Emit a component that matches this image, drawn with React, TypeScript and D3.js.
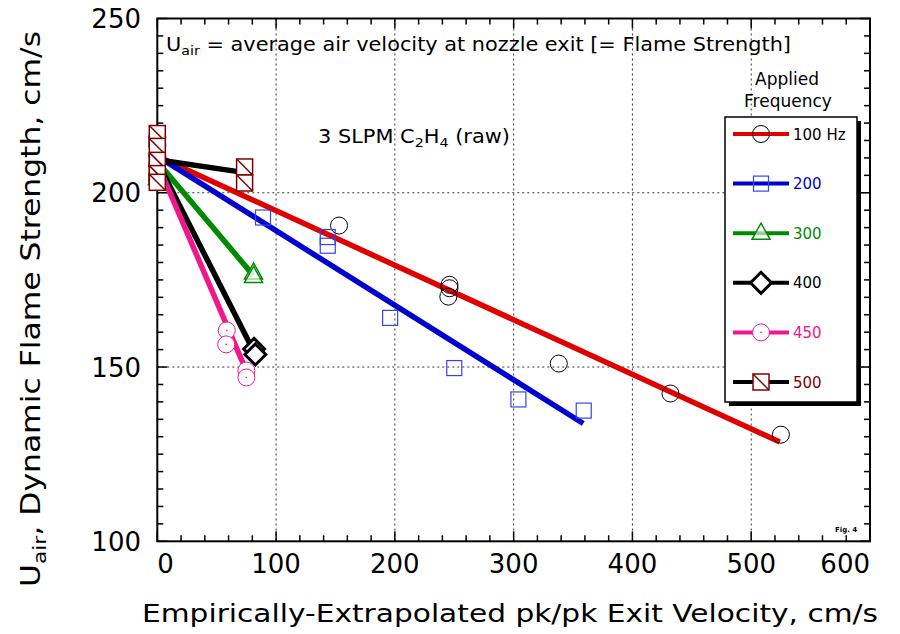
import React from "react";
import { scaleLinear, range } from "d3";

// measured points, [pk/pk exit velocity, U_air]
const hz100 = [[0, 216], [0, 213.5], [0, 210.5], [0, 208], [0, 205.5], [0, 203.5], [153, 190.6], [246, 173.6], [246, 172.6], [245, 170.2], [338, 151], [432, 142.4], [525, 130.6]];
const hz200 = [[0, 214], [0, 211], [0, 207], [0, 204], [89, 192.9], [143.5, 187.3], [143.5, 184.8], [196, 164.1], [250, 149.7], [304, 140.7], [359, 137.5]];
const hz300 = [[0, 204], [81, 177], [81, 176]];
const hz400 = [[81.5, 155.2], [82.5, 153.6]];
const hz450 = [[0, 214], [0, 209], [0, 204], [58.5, 160.5], [58, 156.5], [75, 149], [75, 147]];
const hz500 = [[0, 217], [0, 213.3], [0, 209.3], [0, 205.5], [0, 203], [73.5, 207.4], [73.5, 202.8]];

// fitted lines, [start, end]
const fit100 = [[0, 210.5], [524, 128.5]];
const fit200 = [[0, 210.5], [358.6, 133.8]];
const fit300 = [[0, 209], [80.8, 176.3]];
const fit400 = [[0, 209], [82.2, 153.8]];
const fit450 = [[0, 208.5], [75.3, 148.6]];
const fit500 = [[0, 209.5], [69.6, 206]];

const legendLabels = ["100 Hz", "200", "300", "400", "450", "500"];
const xTicks = [0, 100, 200, 300, 400, 500, 600];
const yTicks = [100, 150, 200, 250];

const FONT = "'DejaVu Sans', Verdana, sans-serif";

const kinds = ["circle", "square", "triangle", "diamond", "pcircle", "xsquare"];
const lineColors = ["#e00000", "#0000d0", "#008a00", "#000000", "#f0168c", "#000000"];
const markColors = ["#000000", "#3344ee", "#008a00", "#000000", "#f0168c", "#800000"];
const textColors = ["#000000", "#0000d0", "#008a00", "#000000", "#f0168c", "#800000"];

function Marker({ kind, x, y, color }: { kind: string; x: number; y: number; color: string }) {
  if (kind === "circle")
    return <circle cx={x} cy={y} r={8.5} fill="none" stroke={color} strokeWidth={1} />;
  if (kind === "square")
    return <rect x={x - 7.5} y={y - 7.5} width={15} height={15} fill="none" stroke={color} strokeWidth={1.2} />;
  if (kind === "triangle")
    return (
      <path d={`M${x},${y - 10}L${x + 9},${y + 6}L${x - 9},${y + 6}Z`} fill="#ffffff" fillOpacity={0.6} stroke={color} strokeWidth={1.5} />
    );
  if (kind === "diamond")
    return (
      <path d={`M${x},${y - 10.5}L${x + 10.5},${y}L${x},${y + 10.5}L${x - 10.5},${y}Z`} fill="#ffffff" stroke={color} strokeWidth={3} />
    );
  if (kind === "pcircle")
    return (
      <g>
        <circle cx={x} cy={y} r={8.5} fill="#ffffff" stroke={color} strokeWidth={1} />
        <circle cx={x} cy={y} r={0.8} fill={color} />
      </g>
    );
  return (
    <g>
      <rect x={x - 8} y={y - 8} width={16} height={16} fill="#ffffff" stroke={color} strokeWidth={1.5} />
      <line x1={x - 8} y1={y - 8} x2={x + 8} y2={y + 8} stroke={color} strokeWidth={1.5} />
    </g>
  );
}

export default function App() {
  const W = 900, H = 634;
  const x = scaleLinear().domain([0, 600]).range([157.3, 870]);
  const y = scaleLinear().domain([100, 250]).range([541.3, 18.5]);

  const points = [hz100, hz200, hz300, hz400, hz450, hz500];
  const fits = [fit100, fit200, fit300, fit400, fit450, fit500];

  const xMinor = range(0, 601, 20);
  const yMinor = range(100, 251, 5);

  const legX0 = 725, legY0 = 117, legW = 132, legH = 285;
  const legRows = range(6).map((i) => 134 + i * 49.6);

  return (
    <svg width={W} height={H} style={{ display: "block", position: "absolute", left: 0, top: 0 }} fontFamily={FONT}>
      <rect width={W} height={H} fill="#ffffff" />

      {/* grid */}
      {[100, 200, 300, 400, 500].map((t) => (
        <line key={"gx" + t} x1={x(t)} x2={x(t)} y1={y(250)} y2={y(100)} stroke="#333" strokeWidth={1} strokeDasharray="2,3" />
      ))}
      {[150, 200].map((t) => (
        <line key={"gy" + t} x1={x(0)} x2={x(600)} y1={y(t)} y2={y(t)} stroke="#333" strokeWidth={1} strokeDasharray="2,3" />
      ))}

      {/* ticks, inward on all four sides */}
      {xMinor.map((t) => {
        const len = t % 100 === 0 ? 10 : 6;
        return (
          <g key={"tx" + t}>
            <line x1={x(t)} x2={x(t)} y1={y(100)} y2={y(100) - len} stroke="#000" strokeWidth={1.5} />
            <line x1={x(t)} x2={x(t)} y1={y(250)} y2={y(250) + len} stroke="#000" strokeWidth={1.5} />
          </g>
        );
      })}
      {yMinor.map((t) => {
        const len = t % 50 === 0 ? 10 : 6;
        return (
          <g key={"ty" + t}>
            <line x1={x(0)} x2={x(0) + len} y1={y(t)} y2={y(t)} stroke="#000" strokeWidth={1.5} />
            <line x1={x(600)} x2={x(600) - len} y1={y(t)} y2={y(t)} stroke="#000" strokeWidth={1.5} />
          </g>
        );
      })}
      <rect x={x(0)} y={y(250)} width={x(600) - x(0)} height={y(100) - y(250)} fill="none" stroke="#000" strokeWidth={2} />

      {/* tick labels */}
      {xTicks.map((t, i) => (
        <text key={"lx" + t} x={x(t)} y={573} fontSize={26}
          textAnchor={i === 0 ? "start" : i === xTicks.length - 1 ? "end" : "middle"}>{t}</text>
      ))}
      {yTicks.map((t) => (
        <text key={"ly" + t} x={141} y={y(t) + 9.5} fontSize={26} textAnchor="end">{t}</text>
      ))}

      {/* axis titles */}
      <text x={510} y={622} fontSize={25} textAnchor="middle" textLength={736} lengthAdjust="spacingAndGlyphs">
        Empirically-Extrapolated pk/pk Exit Velocity, cm/s
      </text>
      <text transform="translate(40,309) rotate(-90)" fontSize={26} textAnchor="middle" textLength={556} lengthAdjust="spacingAndGlyphs">
        U<tspan fontSize={18} dy={6}>air</tspan><tspan dy={-6}>,   Dynamic Flame Strength, cm/s</tspan>
      </text>

      {/* annotations */}
      <text x={166} y={51} fontSize={19} textLength={625} lengthAdjust="spacingAndGlyphs">
        U<tspan fontSize={13} dy={4}>air</tspan><tspan dy={-4}> = average air velocity at nozzle exit [= Flame Strength]</tspan>
      </text>
      <text x={318} y={143} fontSize={19} textLength={192} lengthAdjust="spacingAndGlyphs">
        3 SLPM C<tspan fontSize={13} dy={4}>2</tspan><tspan dy={-4}>H</tspan><tspan fontSize={13} dy={4}>4</tspan><tspan dy={-4}> (raw)</tspan>
      </text>
      <text x={835} y={532} fontSize={7} fontWeight="bold">Fig. 4</text>

      {/* fitted lines */}
      {fits.map((f, i) => (
        <line key={"fit" + i} x1={x(f[0][0])} y1={y(f[0][1])} x2={x(f[1][0])} y2={y(f[1][1])}
          stroke={lineColors[i]} strokeWidth={5.5} />
      ))}

      {/* data markers */}
      {points.map((pts, i) => (
        <g key={"pts" + i}>
          {pts.map((p, j) => (
            <Marker key={j} kind={kinds[i]} x={x(p[0])} y={y(p[1])} color={markColors[i]} />
          ))}
        </g>
      ))}

      {/* legend */}
      <text x={787} y={85} fontSize={17} textAnchor="middle">Applied</text>
      <text x={788} y={107} fontSize={17} textAnchor="middle">Frequency</text>
      <rect x={legX0 + 4} y={legY0 + 4} width={legW} height={legH} fill="#000" />
      <rect x={legX0} y={legY0} width={legW} height={legH} fill="#fff" stroke="#000" strokeWidth={1.5} />
      {legendLabels.map((lab, i) => (
        <g key={"leg" + i}>
          <line x1={733} x2={789} y1={legRows[i]} y2={legRows[i]} stroke={lineColors[i]} strokeWidth={4} />
          <Marker kind={kinds[i]} x={761} y={legRows[i]} color={markColors[i]} />
          <text x={793} y={legRows[i] + 5.5} fontSize={15} fill={textColors[i]}>{lab}</text>
        </g>
      ))}
    </svg>
  );
}
